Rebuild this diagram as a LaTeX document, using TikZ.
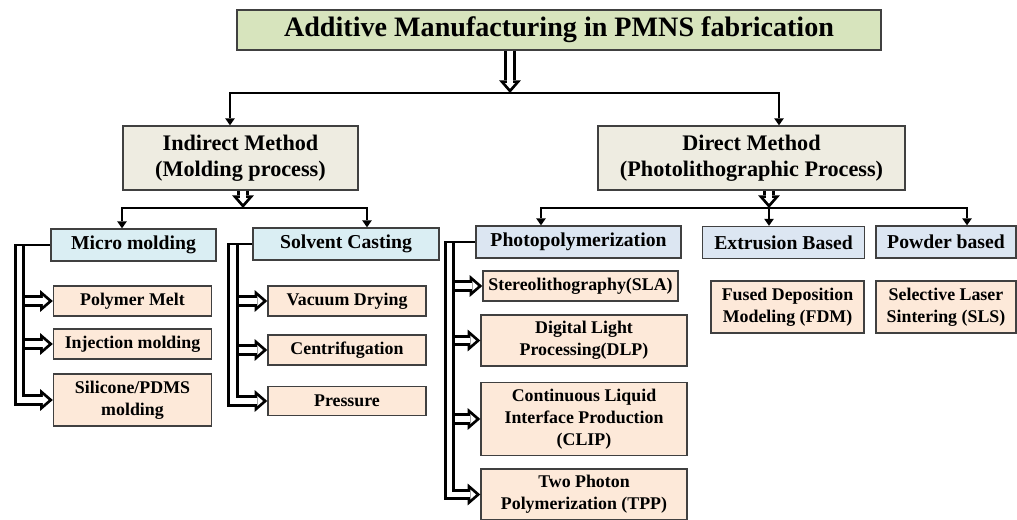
\documentclass[tikz,border=0pt]{standalone}
\usepackage{fontspec}
\setmainfont{Liberation Serif}
\usetikzlibrary{arrows.meta}

\newlength{\unitpx}
\setlength{\unitpx}{0.025cm}

\definecolor{titlegreen}{HTML}{D7E4BD}
\definecolor{methodgray}{HTML}{EEECE1}
\definecolor{aquablue}{HTML}{DAEEF3}
\definecolor{steelblue}{HTML}{DCE6F2}
\definecolor{leafpeach}{HTML}{FDE9D9}
\definecolor{boxline}{HTML}{404040}

\begin{document}
\begin{tikzpicture}[
    x=0.025cm, y=-0.025cm,
    box/.style={rectangle, draw=boxline, line width=1pt, inner sep=0pt, align=center},
    titlebox/.style={box, fill=titlegreen, font=\fontsize{20}{24}\selectfont\bfseries},
    method/.style={box, fill=methodgray, minimum height=64\unitpx, font=\fontsize{15.8}{18.5}\selectfont\bfseries},
    group/.style={box, fill=aquablue, minimum height=32\unitpx, font=\fontsize{14}{17}\selectfont\bfseries},
    groupb/.style={group, fill=steelblue},
    leaf/.style={box, fill=leafpeach, font=\fontsize{12.7}{15.6}\selectfont\bfseries},
    link/.style={line width=2pt, -{Triangle[length=5pt, width=7pt, line width=0pt]}},
    bar/.style={line width=2pt},
    hollow/.style={white, line width=4pt, shorten >=3.05pt,
        -{Triangle[length=3.95pt, width=6.85pt, line width=0pt]},
        preaction={draw=black, line width=8pt, shorten >=0pt,
            -{Triangle[length=9pt, width=15.6pt, line width=0pt]}}}
]
\useasboundingbox (0,0) rectangle (1017,519);

% Title
\node[titlebox, minimum width=644\unitpx, minimum height=40\unitpx] (title) at (559,30) {Additive Manufacturing in PMNS fabrication};

% Methods
\node[method, minimum width=235\unitpx] (indirect) at (240.5,158) {Indirect Method\\(Molding process)};
\node[method, minimum width=307\unitpx] (direct) at (751.5,158) {Direct Method\\(Photolithographic Process)};

% Process groups
\node[group, minimum width=165\unitpx] (micro) at (133.5,245) {Micro molding};
\node[group, minimum width=186\unitpx] (solvent) at (346,244) {Solvent Casting};
\node[groupb, minimum width=205\unitpx] (photo) at (578.5,242) {Photopolymerization};
\node[groupb, minimum width=162\unitpx] (extrusion) at (783.5,242.5) {Extrusion Based};
\node[groupb, minimum width=140\unitpx] (powder) at (946,242) {Powder based};

% Micro molding
\node[leaf, minimum width=158\unitpx, minimum height=30\unitpx] (melt) at (132.5,301) {Polymer Melt};
\node[leaf, minimum width=158\unitpx, minimum height=30\unitpx] (inject) at (132.5,344) {Injection molding};
\node[leaf, minimum width=158\unitpx, minimum height=52\unitpx] (silicone) at (132.5,400) {Silicone/PDMS\\molding};

% Solvent casting
\node[leaf, minimum width=158\unitpx, minimum height=30\unitpx] (vacuum) at (347,301) {Vacuum Drying};
\node[leaf, minimum width=158\unitpx, minimum height=30\unitpx] (centri) at (347,350) {Centrifugation};
\node[leaf, minimum width=158\unitpx, minimum height=29\unitpx] (pressure) at (347,401) {Pressure};

% Photopolymerization
\node[leaf, minimum width=195\unitpx, minimum height=30\unitpx] (sla) at (580.5,286) {Stereolithography(SLA)};
\node[leaf, minimum width=206\unitpx, minimum height=51\unitpx] (dlp) at (584,340.5) {Digital Light\\Processing(DLP)};
\node[leaf, minimum width=206\unitpx, minimum height=73\unitpx] (clip) at (584,419) {Continuous Liquid\\Interface Production\\(CLIP)};
\node[leaf, minimum width=206\unitpx, minimum height=51\unitpx] (tpp) at (584,494.5) {Two Photon\\Polymerization (TPP)};

% Extrusion and powder
\node[leaf, minimum width=153\unitpx, minimum height=52\unitpx] (fdm) at (787.5,307) {Fused Deposition\\Modeling (FDM)};
\node[leaf, minimum width=140\unitpx, minimum height=52\unitpx] (sls) at (946,307) {Selective Laser\\Sintering (SLS)};

% Split below the title
\coordinate (split top) at (510,93);
\draw[hollow] (title.south -| split top) -- (split top);
\draw[link] (split top) -| ([xshift=-10.5\unitpx]indirect.north);
\draw[link] (split top) -| ([xshift=27.5\unitpx]direct.north);

% Split below the indirect method
\coordinate (split ind) at (243,208);
\draw[hollow] (indirect.south -| split ind) -- (split ind);
\draw[link] (split ind) -| ([xshift=-11.5\unitpx]micro.north);
\draw[link] (split ind) -| ([xshift=21\unitpx]solvent.north);

% Split below the direct method
\coordinate (split dir) at (769,208);
\draw[hollow] (direct.south -| split dir) -- (split dir);
\draw[link] (split dir) -| ([xshift=-37.5\unitpx]photo.north);
\draw[link] (split dir) -- (extrusion.north -| split dir);
\draw[link] (split dir) -| ([xshift=21\unitpx]powder.north);

% Micro molding bracket
\coordinate (micro trunk) at (19.5,245);
\draw[hollow] (micro trunk) |- (silicone.west);
\draw[hollow, shorten <=4pt] (micro trunk |- melt.west) -- (melt.west);
\draw[hollow, shorten <=4pt] (micro trunk |- inject.west) -- (inject.west);
\draw[bar, shorten >=-4pt] (micro.west) -- (micro trunk);

% Solvent casting bracket
\coordinate (solvent trunk) at (233,244);
\draw[hollow] (solvent trunk) |- (pressure.west);
\draw[hollow, shorten <=4pt] (solvent trunk |- vacuum.west) -- (vacuum.west);
\draw[hollow, shorten <=4pt] (solvent trunk |- centri.west) -- (centri.west);
\draw[bar, shorten >=-4pt] (solvent.west) -- (solvent trunk);

% Photopolymerization bracket
\coordinate (photo trunk) at (449.5,242);
\draw[hollow] (photo trunk) |- (tpp.west);
\draw[hollow, shorten <=4pt] (photo trunk |- sla.west) -- (sla.west);
\draw[hollow, shorten <=4pt] (photo trunk |- dlp.west) -- (dlp.west);
\draw[hollow, shorten <=4pt] (photo trunk |- clip.west) -- (clip.west);
\draw[bar, shorten >=-4pt] (photo.west) -- (photo trunk);

\end{tikzpicture}
\end{document}
